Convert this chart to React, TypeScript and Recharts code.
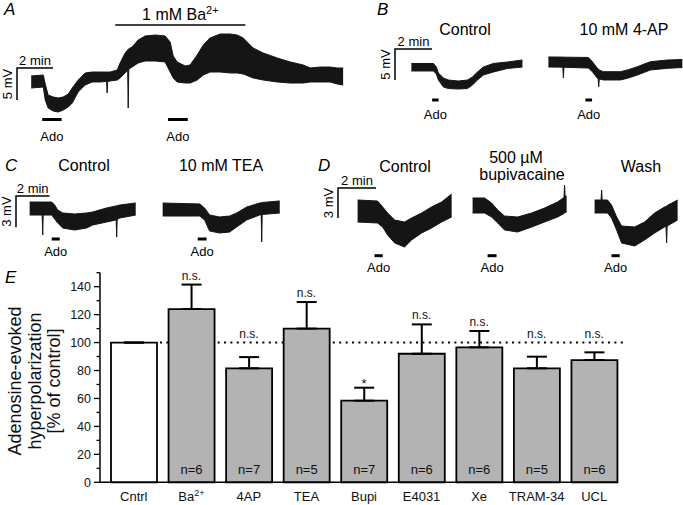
import React from "react";
import {
  AreaChart,
  Area,
  XAxis,
  YAxis,
  ReferenceLine,
  ComposedChart,
  Bar,
  Cell,
  ErrorBar,
  LabelList,
  Line,
} from "recharts";

// each point: [time (min), lower edge (mV), upper edge (mV)] of the recorded trace
type Pt = [number, number, number];

const traceA: Pt[] = [
  [0, -0.94, 0.94], [0.67, -0.78, 1.09], [0.78, -2.81, -0.31], [0.94, -4.06, -2.03],
  [1.22, -4.53, -2.34], [1.5, -4.69, -2.5], [1.78, -4.38, -2.34], [2.06, -3.91, -1.88],
  [2.28, -3.28, -0.94], [2.61, -1.56, 0.31], [3.0, -0.47, 1.41], [3.39, 0, 1.56],
  [3.83, 0, 1.56], [4.19, 0.1, 1.56], [4.22, -1.72, 1.56], [4.25, 0.1, 1.56],
  [4.39, 0.16, 1.56], [4.78, 0.31, 1.88], [4.94, 0.63, 2.97], [5.22, 1.41, 4.53],
  [5.36, 1.9, 5.0], [5.39, -4.06, 5.1], [5.42, 2.0, 5.2], [5.61, 2.34, 5.47],
  [5.94, 2.97, 6.56], [6.33, 3.28, 7.19], [6.89, 3.28, 7.34], [7.44, 3.13, 7.19],
  [7.72, 1.56, 6.25], [7.89, 0.63, 4.06], [8.11, 0, 3.13], [8.56, -0.16, 2.5],
  [8.83, -0.16, 2.66], [9.22, 0.31, 4.22], [9.56, 1.09, 5.78], [9.94, 1.56, 6.88],
  [10.5, 1.56, 7.5], [11.06, 1.41, 7.5], [11.44, 1.41, 7.34], [11.78, 1.25, 6.88],
  [12.33, 0.63, 5.31], [12.89, 0.31, 4.53], [13.67, 0, 3.75], [14.39, -0.16, 3.13],
  [15.11, -0.16, 2.66], [15.5, 0, 2.19], [16.06, 0, 2.34], [16.61, 0, 2.34],
  [17.0, -0.31, 2.19], [17.33, -0.47, 2.19],
];
const adoA: [number, number][] = [[0.61, 1.69], [7.6, 8.7]];
const bariumA: [number, number] = [4.67, 11.9];

const traceBControl: Pt[] = [
  [0, -0.56, 0.65], [1.19, -0.56, 0.65], [1.35, -1.05, 0.08], [1.46, -2.02, -0.89],
  [1.73, -3.15, -1.69], [2.0, -3.39, -2.02], [2.54, -3.47, -2.18], [3.03, -3.39, -2.02],
  [3.3, -2.82, -1.53], [3.57, -2.02, -0.73], [3.89, -1.21, 0.08], [4.43, -0.73, 0.65],
  [5.19, -0.16, 0.89], [6.0, 0.08, 1.21],
];
const traceB4AP: Pt[] = [
  [0, -0.73, 0.89], [0.78, -0.75, 0.87], [0.81, -2.5, 0.87], [0.84, -0.77, 0.86],
  [2.16, -0.89, 0.81], [2.38, -1.48, 0.13], [2.65, -2.55, -0.94], [2.69, -2.6, -1.0],
  [2.72, -3.9, -1.1], [2.75, -2.65, -1.2], [2.97, -2.82, -1.48], [3.89, -2.82, -1.48],
  [4.27, -2.55, -1.21], [4.81, -2.02, -0.68], [5.51, -1.21, 0.13], [6.43, -0.94, 0.4],
  [7.24, -0.81, 0.48],
];
const adoBControl: [number, number][] = [[1.12, 1.47]];
const adoB4AP: [number, number][] = [[2.0, 2.36]];

const traceCControl: Pt[] = [
  [0, -0.58, 0.67], [0.75, -0.58, 0.67], [0.78, -2.5, 0.67], [0.81, -0.58, 0.67],
  [1.32, -0.58, 0.67], [1.5, -0.96, 0.38], [1.68, -1.35, -0.1], [1.98, -1.83, -0.38],
  [2.69, -2.02, -0.48], [3.41, -1.83, -0.38], [3.77, -1.54, -0.29], [4.61, -1.25, 0.1],
  [5.18, -1.05, 0.3], [5.21, -2.7, 0.3], [5.24, -1.0, 0.33], [5.39, -0.87, 0.38],
  [6.35, -0.58, 0.58],
];
const traceCTEA: Pt[] = [
  [0, -0.58, 0.67], [2.22, -0.58, 0.58], [2.51, -0.96, 0.19], [2.81, -2.02, -0.48],
  [3.41, -2.21, -0.67], [4.01, -2.12, -0.58], [4.43, -1.63, -0.29], [5.03, -0.96, 0.29],
  [5.81, -0.48, 0.67], [5.9, -0.45, 0.7], [5.93, -3.08, 0.7], [5.96, -0.43, 0.72],
  [7.01, -0.29, 0.87],
];
const adoCControl: [number, number][] = [[1.32, 1.8]];
const adoCTEA: [number, number][] = [[2.1, 2.63]];

const traceDControl: Pt[] = [
  [0, -1.0, 1.2], [1.05, -1.1, 1.1], [1.32, -1.5, 0.5], [1.58, -2.3, -0.1],
  [1.95, -3.1, -0.8], [2.47, -3.5, -1.0], [2.84, -2.8, -0.6], [3.37, -2.1, -0.1],
  [3.89, -1.6, 0.5], [4.42, -1.0, 1.0], [4.95, -0.5, 1.8],
];
const traceDBupi: Pt[] = [
  [0, -0.75, 0.75], [0.63, -0.75, 0.75], [1.0, -1.15, 0.25], [1.32, -1.75, -0.45],
  [1.68, -2.45, -1.05], [2.37, -2.65, -1.15], [3.11, -2.15, -0.75], [3.79, -1.65, -0.25],
  [4.47, -1.15, 0.35], [4.81, -0.8, 0.8], [4.84, -0.75, 2.05], [4.87, -0.7, 0.9],
  [4.95, -0.65, 0.95],
];
const traceDWash: Pt[] = [
  [0, -0.65, 0.65], [0.34, -0.65, 0.65], [0.37, -0.65, 1.65], [0.4, -0.65, 0.65],
  [0.68, -0.65, 0.65], [0.89, -1.15, 0.15], [1.16, -2.35, -1.05], [1.42, -3.65, -1.95],
  [2.11, -3.95, -2.05], [2.63, -3.35, -1.55], [3.16, -2.65, -0.65], [3.68, -2.05, -0.05],
  [3.76, -2.0, 0.0], [3.79, -3.65, 0.05], [3.82, -1.95, 0.1], [4.37, -1.35, 0.65],
];
const adoDControl: [number, number][] = [[0.89, 1.32]];
const adoDBupi: [number, number][] = [[0.79, 1.26]];
const adoDWash: [number, number][] = [[0.89, 1.32]];

// panel E
const categories = ["Cntrl", "Ba2+", "4AP", "TEA", "Bupi", "E4031", "Xe", "TRAM-34", "UCL"];
const means = [100, 124, 81.6, 110, 58.4, 92, 96.6, 81.6, 87.5];
const sems = [0, 17.5, 8, 19, 9.3, 21, 11.7, 8.3, 5.5];
const cellCounts = [null, 6, 7, 5, 7, 6, 6, 5, 6];
const significance = ["", "n.s.", "n.s.", "n.s.", "*", "n.s.", "n.s.", "n.s.", "n.s."];
const yTicks = [0, 10, 20, 30, 40, 50, 60, 70, 80, 90, 100, 110, 120, 130, 140, 150];

const FONT = '"Liberation Sans", Arial, Helvetica, sans-serif';
const INK = "#151515";

const barData = categories.map((name, i) => ({
  name,
  mean: means[i],
  err: [0, sems[i]],
  n: cellCounts[i] ? `n=${cellCounts[i]}` : undefined,
  sig: significance[i] || undefined,
  anchor:
    significance[i] === "n.s."
      ? Math.max(means[i] + sems[i], 100)
      : significance[i]
      ? means[i] + sems[i]
      : null,
}));

function Trace({ pts, x0, y0, pxMin, pxMV, top, bottom, ado, adoY, adoGap, bath }: any) {
  const tLeft = -0.4;
  const tRight = pts[pts.length - 1][0] + 0.4;
  const vTop = (y0 - top) / pxMV;
  const vBottom = (y0 - bottom) / pxMV;
  const adoV = (y0 - adoY) / pxMV;
  const data = pts.map(([t, lo, hi]: Pt) => ({ t, band: [lo, hi] }));
  return (
    <div style={{ position: "absolute", left: x0 + tLeft * pxMin, top }}>
      <AreaChart
        width={(tRight - tLeft) * pxMin}
        height={bottom - top}
        data={data}
        margin={{ top: 0, right: 0, bottom: 0, left: 0 }}
      >
        <XAxis type="number" dataKey="t" domain={[tLeft, tRight]} hide allowDataOverflow />
        <YAxis type="number" domain={[vBottom, vTop]} hide allowDataOverflow />
        <Area
          type="linear"
          dataKey="band"
          stroke={INK}
          strokeWidth={1}
          fill={INK}
          fillOpacity={1}
          dot={false}
          activeDot={false}
          isAnimationActive={false}
        />
        {ado.map(([a, b]: [number, number], i: number) => (
          <ReferenceLine
            key={i}
            segment={[{ x: a, y: adoV }, { x: b, y: adoV }]}
            stroke="#000"
            strokeWidth={3}
            label={{ value: "Ado", position: "bottom", offset: adoGap, fontSize: 13, fill: "#000" }}
          />
        ))}
        {bath && (
          <ReferenceLine
            segment={[{ x: bath.span[0], y: (y0 - bath.y) / pxMV }, { x: bath.span[1], y: (y0 - bath.y) / pxMV }]}
            stroke="#000"
            strokeWidth={1.5}
            label={(p: any) => (
              <text
                x={p.viewBox.x + p.viewBox.width / 2}
                y={p.viewBox.y - 4.5}
                textAnchor="middle"
                fontSize={16}
                fill="#000"
              >
                1 mM Ba<tspan dy={-6} fontSize={11}>2+</tspan>
              </text>
            )}
          />
        )}
      </AreaChart>
    </div>
  );
}

function ScaleBar({ x, y, pxMin, pxMV, mv }: any) {
  const w = 2 * pxMin;
  const h = mv * pxMV;
  return (
    <g>
      <path d={`M${x},${y + h} L${x},${y} L${x + w},${y}`} fill="none" stroke="#000" strokeWidth={1.5} />
      <text x={x + w / 2} y={y - 3.5} textAnchor="middle" fontSize={13} fill="#000">
        2 min
      </text>
      <text
        transform={`translate(${x - 10},${y + h / 2}) rotate(-90)`}
        textAnchor="middle"
        dominantBaseline="central"
        fontSize={13}
        fill="#000"
      >
        {mv} mV
      </text>
    </g>
  );
}

const XTick = ({ x, y, payload }: any) => (
  <text x={x} y={y} dy="0.71em" textAnchor="middle" fontSize={13} fill="#111">
    {payload.value === "Ba2+" ? (
      <>
        Ba<tspan dy={-5} fontSize={9}>2+</tspan>
      </>
    ) : (
      payload.value
    )}
  </text>
);

const YTick = ({ x, y, payload }: any) => {
  const v = payload.value;
  const major = v % 20 === 0;
  return (
    <g>
      <line x1={x - (major ? 6 : 3.5)} x2={x} y1={y} y2={y} stroke="#000" strokeWidth={1.3} />
      {major && v <= 140 && (
        <text x={x - 9} y={y} dy="0.36em" textAnchor="end" fontSize={12.5} fill="#111">
          {v}
        </text>
      )}
    </g>
  );
};

const SigLabel = (p: any) => {
  if (!p.value) return null;
  const off = p.value === "*" ? 0 : 5;
  return (
    <text x={p.x} y={p.y - off} textAnchor="middle" fontSize={p.value === "*" ? 13 : 12} fill="#111">
      {p.value}
    </text>
  );
};

export default function App() {
  const letter = { fontSize: 17, fontStyle: "italic" as const, fill: "#000" };
  const title = { fontSize: 16, textAnchor: "middle" as const, fill: "#000" };
  return (
    <div
      style={{
        position: "absolute",
        left: 0,
        top: 0,
        width: 683,
        height: 505,
        background: "#fff",
        fontFamily: FONT,
        overflow: "hidden",
      }}
    >
      <Trace pts={traceA} x0={31} y0={82} pxMin={18} pxMV={6.4} top={2} bottom={145}
        ado={adoA} adoY={119.5} adoGap={12} bath={{ span: bariumA, y: 25 }} />
      <Trace pts={traceBControl} x0={411} y0={67.5} pxMin={18.5} pxMV={6.2} top={50} bottom={125}
        ado={adoBControl} adoY={100} adoGap={10} />
      <Trace pts={traceB4AP} x0={548} y0={62.5} pxMin={18.5} pxMV={6.2} top={45} bottom={125}
        ado={adoB4AP} adoY={100} adoGap={10} />
      <Trace pts={traceCControl} x0={30} y0={209} pxMin={16.7} pxMV={10.4} top={190} bottom={262}
        ado={adoCControl} adoY={239} adoGap={7.5} />
      <Trace pts={traceCTEA} x0={163} y0={210} pxMin={16.7} pxMV={10.4} top={190} bottom={262}
        ado={adoCTEA} adoY={239} adoGap={7.5} />
      <Trace pts={traceDControl} x0={358} y0={212} pxMin={19} pxMV={10} top={180} bottom={280}
        ado={adoDControl} adoY={255.7} adoGap={7.5} />
      <Trace pts={traceDBupi} x0={473} y0={205.5} pxMin={19} pxMV={10} top={180} bottom={280}
        ado={adoDBupi} adoY={255.7} adoGap={7.5} />
      <Trace pts={traceDWash} x0={595} y0={206.5} pxMin={19} pxMV={10} top={180} bottom={280}
        ado={adoDWash} adoY={255.7} adoGap={7.5} />

      <div style={{ position: "absolute", left: 0, top: 255 }}>
        <ComposedChart
          width={640}
          height={250}
          data={barData}
          margin={{ top: 17.7, right: 23, bottom: 0, left: 0 }}
        >
          <XAxis
            dataKey="name"
            height={22.7}
            interval={0}
            tickLine={false}
            tickSize={0}
            tickMargin={9}
            tick={<XTick />}
            axisLine={{ stroke: "#000", strokeWidth: 1.5 }}
            padding={{ left: 5, right: -6 }}
          />
          <YAxis
            width={100}
            domain={[0, 150]}
            ticks={yTicks}
            interval={0}
            tickLine={false}
            tickSize={0}
            tickMargin={0}
            tick={<YTick />}
            axisLine={{ stroke: "#000", strokeWidth: 1.5 }}
          />
          <ReferenceLine
            y={100}
            zIndex={-10}
            shape={(p: any) => (
              <line
                x1={p.x1 + 60}
                x2={p.x2 + 10}
                y1={p.y1}
                y2={p.y2}
                stroke="#000"
                strokeWidth={2}
                strokeDasharray="2 4.4"
              />
            )}
          />
          <Bar dataKey="mean" barSize={46} stroke="#000" strokeWidth={1.8} isAnimationActive={false}>
            {barData.map((d) => (
              <Cell key={d.name} fill={d.name === "Cntrl" ? "#fff" : "#b3b3b3"} />
            ))}
            <ErrorBar dataKey="err" width={10} strokeWidth={2} stroke="#000" direction="y" />
            <LabelList dataKey="n" position="insideBottom" offset={8} fontSize={13} fill="#111" />
          </Bar>
          <Line
            dataKey="anchor"
            stroke="none"
            dot={false}
            activeDot={false}
            legendType="none"
            isAnimationActive={false}
          >
            <LabelList dataKey="sig" content={SigLabel} />
          </Line>
        </ComposedChart>
      </div>

      <svg width={683} height={505} style={{ position: "absolute", left: 0, top: 0, pointerEvents: "none" }}>
        <text x={4} y={15} {...letter}>A</text>
        <text x={377} y={15} {...letter}>B</text>
        <text x={5} y={171} {...letter}>C</text>
        <text x={318} y={171} {...letter}>D</text>
        <text x={5} y={283} {...letter}>E</text>

        <text x={465} y={35} {...title}>Control</text>
        <text x={624} y={35} {...title}>10 mM 4-AP</text>
        <text x={84} y={171} {...title}>Control</text>
        <text x={221} y={171} {...title}>10 mM TEA</text>
        <text x={405} y={171.5} {...title}>Control</text>
        <text x={516} y={163} {...title}>500 µM</text>
        <text x={522} y={180} {...title}>bupivacaine</text>
        <text x={641} y={171.5} {...title}>Wash</text>

        <ScaleBar x={17} y={68} pxMin={18} pxMV={6.4} mv={5} />
        <ScaleBar x={395} y={49} pxMin={18.5} pxMV={6.2} mv={5} />
        <ScaleBar x={16} y={196} pxMin={16.7} pxMV={10.4} mv={3} />
        <ScaleBar x={338} y={188} pxMin={19} pxMV={10} mv={3} />

        {["Adenosine-evoked", "hyperpolarization", "[% of control]"].map((s, i) => (
          <text
            key={s}
            transform={`translate(${15 + i * 19.5},381) rotate(-90)`}
            textAnchor="middle"
            dominantBaseline="central"
            fontSize={18}
            fill="#111"
          >
            {s}
          </text>
        ))}
      </svg>
    </div>
  );
}
